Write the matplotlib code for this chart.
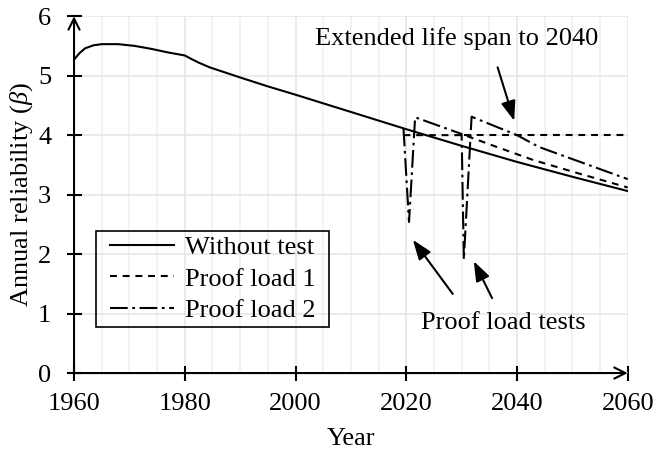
import matplotlib
matplotlib.use('Agg')
import matplotlib.pyplot as plt
from matplotlib.patches import Rectangle
from matplotlib.ticker import MultipleLocator

plt.rcParams['font.family'] = ['Liberation Serif', 'DejaVu Serif']
plt.rcParams['mathtext.fontset'] = 'custom'
plt.rcParams['mathtext.rm'] = 'Liberation Serif'
plt.rcParams['mathtext.it'] = 'Liberation Serif:italic'

# Without test
years_base = [1960, 1961, 1962, 1963.5, 1965, 1968, 1971, 1974, 1977, 1980, 1981,
              1982.5, 1984.5, 1990, 1995, 2000, 2010, 2020, 2030, 2040, 2050, 2060]
beta_base = [5.27, 5.38, 5.46, 5.51, 5.53, 5.53, 5.50, 5.45, 5.39, 5.34, 5.29,
             5.22, 5.14, 4.97, 4.82, 4.68, 4.39, 4.10, 3.82, 3.55, 3.30, 3.06]

# Proof load 1
years_pl1 = [2019.5, 2030.5, 2037, 2043, 2051, 2060]
beta_pl1 = [4.0, 4.0, 3.78, 3.58, 3.36, 3.12]

# Proof load 2
years_pl2 = [2019.5, 2020.5, 2021.6, 2030.0, 2030.4, 2031.8, 2040, 2044, 2060]
beta_pl2 = [4.11, 2.54, 4.30, 4.02, 1.91, 4.31, 4.00, 3.80, 3.26]

# target level line
years_target = [2030.5, 2060]
beta_target = [4.0, 4.0]

fig = plt.figure(figsize=(6.58, 4.5), dpi=100)
ax = fig.add_axes([0.1125, 0.171, 0.8415, 0.793])

fs = 19
lw = 1.5

ax.plot(years_base, beta_base, color='black', lw=lw, label='Without test')
ax.plot(years_pl1, beta_pl1, color='black', lw=lw, dashes=(3.3, 2.8), label='Proof load 1')
ax.plot(years_pl2, beta_pl2, color='black', lw=lw, dashes=(8.5, 2.2, 1.3, 2.2), label='Proof load 2')
ax.plot(years_target, beta_target, color='black', lw=lw, dashes=(3.3, 2.8))

ax.set_xlim(1960, 2060)
ax.set_ylim(0, 6)
ax.xaxis.set_major_locator(MultipleLocator(20))
ax.xaxis.set_minor_locator(MultipleLocator(5))
ax.yaxis.set_major_locator(MultipleLocator(1))

ax.grid(which='major', color='#e6e6e6', lw=1.2)
ax.grid(which='minor', axis='x', color='#f0f0f0', lw=1.2)
ax.set_axisbelow(True)

for s in ax.spines.values():
    s.set_visible(False)

ax.tick_params(which='major', direction='inout', length=10.8, width=1.5,
               labelsize=fs)
ax.tick_params(axis='x', which='major', pad=9)
ax.tick_params(axis='y', which='major', pad=11)
ax.tick_params(which='minor', length=0)

# axis lines with arrow heads
ax.annotate('', xy=(0, 1), xytext=(0, 0), xycoords='axes fraction',
            arrowprops=dict(arrowstyle='->', lw=1.5, color='black',
                            mutation_scale=20, shrinkA=0, shrinkB=0))
ax.annotate('', xy=(1, 0), xytext=(0, 0), xycoords='axes fraction',
            arrowprops=dict(arrowstyle='->', lw=1.5, color='black',
                            mutation_scale=20, shrinkA=0, shrinkB=0))

ax.set_xlabel('Year', fontsize=fs, labelpad=9)
ax.set_ylabel('Annual reliability ($\\beta$)', fontsize=fs, labelpad=2.5)

arrow = dict(arrowstyle='-|>,head_length=0.6,head_width=0.22', lw=1.5,
             color='black', mutation_scale=20, shrinkA=0, shrinkB=0)

ax.text(2029.1, 5.62, 'Extended life span to 2040', fontsize=fs,
        ha='center', va='center')
ax.annotate('', xy=(2039.5, 4.24), xytext=(2036.5, 5.14), arrowprops=arrow)

ax.text(2037.5, 0.84, 'Proof load tests', fontsize=fs, ha='center', va='center')
ax.annotate('', xy=(2021.2, 2.24), xytext=(2028.4, 1.33), arrowprops=arrow)
ax.annotate('', xy=(2032.2, 1.88), xytext=(2035.5, 1.26), arrowprops=arrow)

leg = ax.legend(loc='lower left', bbox_to_anchor=(0.056, 0.129), borderaxespad=0,
                fontsize=fs, frameon=False, handlelength=2.45, handletextpad=0.4,
                labelspacing=0.31, borderpad=0.18)

# legend frame with wider side margins than matplotlib gives
fig.canvas.draw()
bb = leg.get_window_extent(fig.canvas.get_renderer())
dx = 9
fig.add_artist(Rectangle((bb.x0 - dx, bb.y0), bb.width + 2 * dx, bb.height,
                         transform=None, facecolor='none', edgecolor='black',
                         lw=1.2, zorder=5))

fig.savefig('out.png', dpi=100)
